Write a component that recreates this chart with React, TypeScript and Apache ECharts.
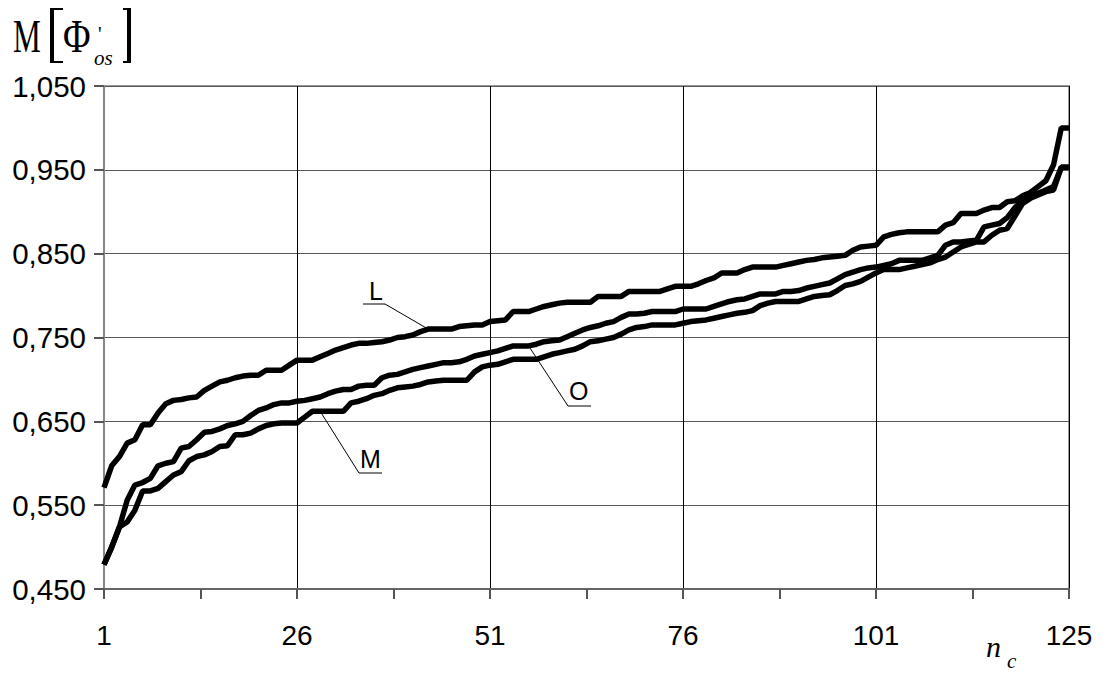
import React, { useEffect, useRef } from "react";
import * as echarts from "echarts";

// x positions are sample indices 0..125
const xTickIndex = [0, 25, 50, 75, 100, 125];
const xTickLabels = ["1", "26", "51", "76", "101", "125"];

const seriesL = [
  0.571, 0.597, 0.608, 0.624, 0.628, 0.646, 0.646, 0.660, 0.671, 0.675,
  0.676, 0.678, 0.679, 0.687, 0.692, 0.697, 0.699, 0.702, 0.704, 0.705,
  0.705, 0.711, 0.711, 0.711, 0.717, 0.723, 0.723, 0.723, 0.727, 0.731,
  0.735, 0.738, 0.741, 0.743, 0.743, 0.744, 0.745, 0.747, 0.750, 0.751,
  0.753, 0.757, 0.760, 0.760, 0.760, 0.760, 0.763, 0.764, 0.765, 0.765,
  0.769, 0.770, 0.771, 0.781, 0.781, 0.781, 0.784, 0.787, 0.789, 0.791,
  0.792, 0.792, 0.792, 0.792, 0.799, 0.799, 0.799, 0.799, 0.805, 0.805,
  0.805, 0.805, 0.805, 0.808, 0.811, 0.811, 0.811, 0.814, 0.818, 0.821,
  0.827, 0.827, 0.827, 0.831, 0.834, 0.834, 0.834, 0.834, 0.836, 0.838,
  0.840, 0.842, 0.843, 0.845, 0.846, 0.847, 0.848, 0.854, 0.858, 0.859,
  0.860, 0.870, 0.873, 0.875, 0.876, 0.876, 0.876, 0.876, 0.876, 0.884,
  0.887, 0.898, 0.898, 0.898, 0.902, 0.905, 0.905, 0.912, 0.913, 0.919,
  0.923, 0.930, 0.937, 0.956, 1.000, 1.000,
];

const seriesO = [
  0.479, 0.500, 0.524, 0.556, 0.574, 0.577, 0.582, 0.597, 0.600, 0.602,
  0.618, 0.620, 0.628, 0.637, 0.638, 0.641, 0.645, 0.647, 0.650, 0.657,
  0.663, 0.666, 0.670, 0.672, 0.672, 0.674, 0.675, 0.677, 0.679, 0.683,
  0.686, 0.688, 0.688, 0.692, 0.693, 0.693, 0.702, 0.705, 0.706, 0.709,
  0.712, 0.714, 0.716, 0.718, 0.720, 0.720, 0.721, 0.724, 0.728, 0.730,
  0.732, 0.734, 0.737, 0.740, 0.740, 0.740, 0.742, 0.745, 0.746, 0.747,
  0.751, 0.755, 0.759, 0.762, 0.764, 0.767, 0.769, 0.774, 0.778, 0.778,
  0.779, 0.781, 0.781, 0.781, 0.781, 0.784, 0.784, 0.784, 0.784, 0.787,
  0.790, 0.793, 0.795, 0.796, 0.799, 0.802, 0.802, 0.802, 0.805, 0.805,
  0.806, 0.809, 0.811, 0.813, 0.815, 0.820, 0.825, 0.828, 0.831, 0.833,
  0.834, 0.836, 0.838, 0.842, 0.842, 0.842, 0.842, 0.845, 0.848, 0.860,
  0.864, 0.864, 0.865, 0.866, 0.882, 0.884, 0.886, 0.893, 0.905, 0.913,
  0.918, 0.922, 0.926, 0.930, 0.953, 0.953,
];

const seriesM = [
  0.479, 0.500, 0.524, 0.530, 0.544, 0.567, 0.567, 0.570, 0.578, 0.586,
  0.590, 0.603, 0.608, 0.610, 0.614, 0.620, 0.621, 0.634, 0.634, 0.636,
  0.641, 0.645, 0.647, 0.648, 0.648, 0.648, 0.655, 0.662, 0.662, 0.662,
  0.662, 0.662, 0.672, 0.674, 0.677, 0.681, 0.683, 0.687, 0.690, 0.691,
  0.692, 0.694, 0.697, 0.698, 0.699, 0.699, 0.699, 0.699, 0.709, 0.715,
  0.717, 0.718, 0.721, 0.724, 0.724, 0.724, 0.724, 0.727, 0.730, 0.732,
  0.734, 0.736, 0.740, 0.745, 0.746, 0.748, 0.750, 0.754, 0.759, 0.762,
  0.763, 0.765, 0.765, 0.765, 0.765, 0.767, 0.769, 0.770, 0.771, 0.773,
  0.775, 0.777, 0.779, 0.780, 0.782, 0.788, 0.791, 0.793, 0.793, 0.793,
  0.793, 0.796, 0.799, 0.800, 0.801, 0.806, 0.812, 0.814, 0.817, 0.822,
  0.827, 0.831, 0.831, 0.831, 0.833, 0.835, 0.837, 0.839, 0.843, 0.846,
  0.852, 0.858, 0.861, 0.864, 0.864, 0.872, 0.878, 0.880, 0.895, 0.910,
  0.916, 0.920, 0.924, 0.926, 0.953, 0.953,
];

const seriesNames = ["L", "O", "M"];
// index on each curve where its label leader line touches it
const leaderIndex = [42, 55, 28];

const toPairs = (arr: number[]) => arr.map((v, i) => [i, v]);

export default function App() {
  const ref = useRef<HTMLDivElement>(null);
  useEffect(() => {
    if (!ref.current) return;
    const chart = echarts.init(ref.current, null, { renderer: "svg" });
    const lineStyle = { color: "#000", width: 5.5 };
    const allSeries = [seriesL, seriesO, seriesM];
    chart.setOption({
      animation: false,
      backgroundColor: "#fff",
      grid: {
        left: 104,
        right: 34,
        top: 86,
        bottom: 84,
        show: true,
        borderColor: "#9a9a9a",
        borderWidth: 2,
      },
      xAxis: {
        type: "value",
        min: 0,
        max: 125,
        interval: 25,
        axisLine: { lineStyle: { color: "#666", width: 2 } },
        axisTick: { show: true, length: 10, lineStyle: { color: "#555", width: 2 } },
        minorTick: { show: true, splitNumber: 2, length: 10, lineStyle: { color: "#555", width: 2 } },
        splitLine: { show: true, lineStyle: { color: "#000", width: 1 } },
        axisLabel: {
          margin: 32,
          fontFamily: "'Liberation Sans', Arial, sans-serif",
          fontSize: 28,
          color: "#000",
          formatter: (v: number) => {
            const k = xTickIndex.indexOf(Math.round(v));
            return k >= 0 ? xTickLabels[k] : "";
          },
        },
      },
      yAxis: {
        type: "value",
        min: 0.45,
        max: 1.05,
        interval: 0.1,
        axisLine: { show: true, lineStyle: { color: "#888", width: 2 } },
        axisTick: { show: true, length: 10, lineStyle: { color: "#555", width: 2 } },
        splitLine: { show: true, lineStyle: { color: "#5a5a5a", width: 1 } },
        axisLabel: {
          margin: 18,
          fontFamily: "'Liberation Sans', Arial, sans-serif",
          fontSize: 29.5,
          color: "#000",
          formatter: (v: number) => v.toFixed(3).replace(".", ","),
        },
      },
      series: allSeries.map((arr, k) => ({
        name: seriesNames[k],
        type: "line",
        data: toPairs(arr),
        showSymbol: false,
        lineStyle,
        z: 3,
      })),
    });

    const pt = (k: number) =>
      chart.convertToPixel({ gridIndex: 0 }, [leaderIndex[k], allSeries[k][leaderIndex[k]]]) as number[];
    const pL = pt(0);
    const pO = pt(1);
    const pM = pt(2);
    const serif = "'Liberation Serif', 'Times New Roman', serif";
    const sans = "'Liberation Sans', Arial, sans-serif";
    const thin = { stroke: "#000", lineWidth: 1, fill: "none" };
    // place text so that its baseline lands on `base`
    const txt = (x: number, base: number, text: string, size: number, family: string, extra: any = {}) => ({
      type: "text",
      x,
      y: base - 0.86 * size,
      ...extra,
      style: { text, font: `${extra.italic ? "italic " : ""}${size}px ${family}`, fill: "#000", verticalAlign: "top" },
    });

    chart.setOption({
      graphic: [
        // y-axis title  M[Φ'os]
        txt(13, 53, "M", 46, serif, { scaleX: 0.68 }),
        { type: "rect", shape: { x: 50, y: 8, width: 4, height: 55 }, style: { fill: "#000" } },
        { type: "line", shape: { x1: 50, y1: 9, x2: 63, y2: 9 }, style: { stroke: "#000", lineWidth: 2 } },
        { type: "line", shape: { x1: 50, y1: 62, x2: 63, y2: 62 }, style: { stroke: "#000", lineWidth: 2 } },
        txt(63, 53, "Φ", 46, serif, { scaleX: 0.82 }),
        txt(98, 41, "'", 20, serif),
        txt(94, 66, "os", 21, serif, { italic: true }),
        { type: "rect", shape: { x: 127, y: 8, width: 4, height: 55 }, style: { fill: "#000" } },
        { type: "line", shape: { x1: 123, y1: 9, x2: 131, y2: 9 }, style: { stroke: "#000", lineWidth: 2 } },
        { type: "line", shape: { x1: 123, y1: 62, x2: 131, y2: 62 }, style: { stroke: "#000", lineWidth: 2 } },
        // x-axis title n_c
        txt(986, 657, "n", 30, serif, { italic: true }),
        txt(1007, 669, "c", 21, serif, { italic: true }),
        // curve labels with leaders
        txt(369, 300, "L", 25, sans),
        { type: "polyline", shape: { points: [[363, 304], [385, 304], [pL[0], pL[1]]] }, style: thin },
        txt(569, 400, "O", 25, sans),
        { type: "polyline", shape: { points: [[591, 406], [568, 406], [pO[0], pO[1]]] }, style: thin },
        txt(360, 468, "M", 25, sans),
        { type: "polyline", shape: { points: [[382, 473], [359, 473], [pM[0], pM[1]]] }, style: thin },
      ],
    });
    return () => chart.dispose();
  }, []);
  return (
    <div
      ref={ref}
      style={{ position: "fixed", left: 0, top: 0, width: 1103, height: 673, background: "#fff" }}
    />
  );
}
